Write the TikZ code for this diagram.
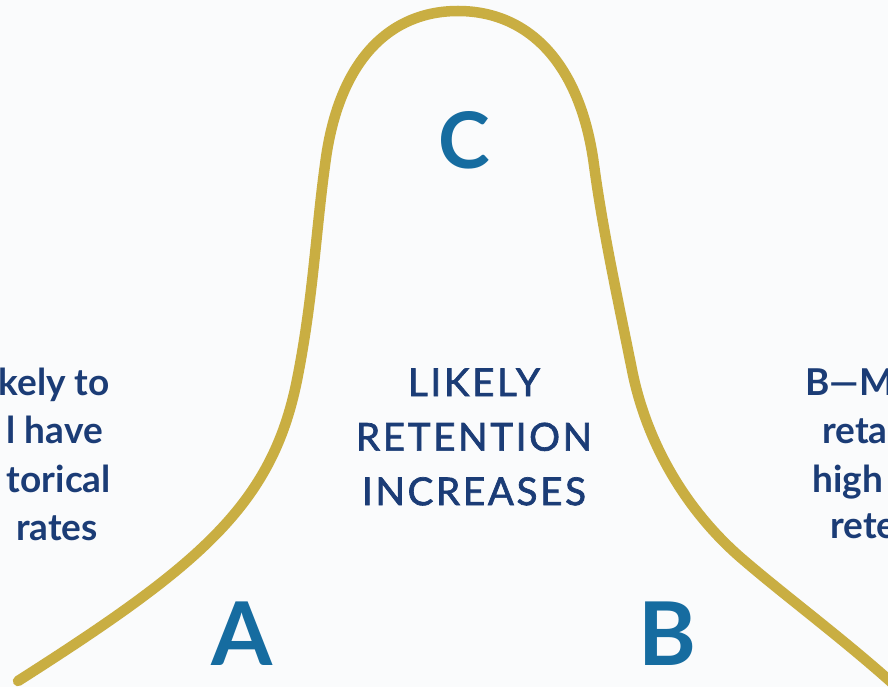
\documentclass[tikz,border=0pt]{standalone}
\usepackage{fontspec}
\setmainfont{Lato}
\newfontfamily\latomid{Lato}[FakeBold=1.8,LetterSpace=7]
\usepackage{xcolor}

\definecolor{curvegold}{RGB}{201,174,66}
\definecolor{zoneblue}{RGB}{22,108,160}
\definecolor{textnavy}{RGB}{27,60,118}
\definecolor{paper}{RGB}{250,251,252}

\begin{document}
\begin{tikzpicture}[x=1pt,y=-1pt,
  zone/.style={text=zoneblue,inner sep=0pt,anchor=base,font=\bfseries\fontsize{88}{88}\selectfont},
  sideleft/.style={text=textnavy,inner sep=0pt,anchor=base east,font=\bfseries\fontsize{37}{48}\selectfont},
  sideright/.style={text=textnavy,inner sep=0pt,anchor=base west,font=\bfseries\fontsize{37}{48}\selectfont}]
\fill[paper] (0,0) rectangle (888,687);
\useasboundingbox (0,0) rectangle (888,687);
% the bell curve, left foot to right foot
\draw[curvegold,line width=10.5pt,line cap=round]
  (18,681) .. controls (200,565) and (272,505) .. (297,380)
  .. controls (313,300) and (316,230) .. (325,165)
  .. controls (338,60) and (390,11) .. (458,11)
  .. controls (526,11) and (580,60) .. (594,165)
  .. controls (603,232) and (618,300) .. (632,370)
  .. controls (646,440) and (683,507) .. (740,557)
  .. controls (785,596) and (845,640) .. (900,690);
% letters for the three zones
\node[zone,font=\bfseries\fontsize{78}{78}\selectfont] (zoneC) at (464,169) {C};
\node[zone] (zoneA) at (242,665) {A};
\node[zone] (zoneB) at (667,665) {B};
% middle text
\node[text=textnavy,inner sep=0pt,align=center,font=\latomid\fontsize{38.5}{54.5}\selectfont] (middle) at (474,437)
  {LIKELY\\RETENTION\\INCREASES};
% text cut by the left edge
\node[sideleft] (left1) at (110,395) {kely to};
\node[sideleft] (left2) at (103,443) {l have};
\node[sideleft] (left3) at (111,492) {torical};
\node[sideleft] (left4) at (98,540) {rates};
% text cut by the right edge
\node[sideright] (right1) at (805,395) {B—M};
\node[sideright] (right2) at (822,443) {reta};
\node[sideright] (right3) at (812,492) {high};
\node[sideright] (right4) at (830,538) {rete};
\end{tikzpicture}
\end{document}
